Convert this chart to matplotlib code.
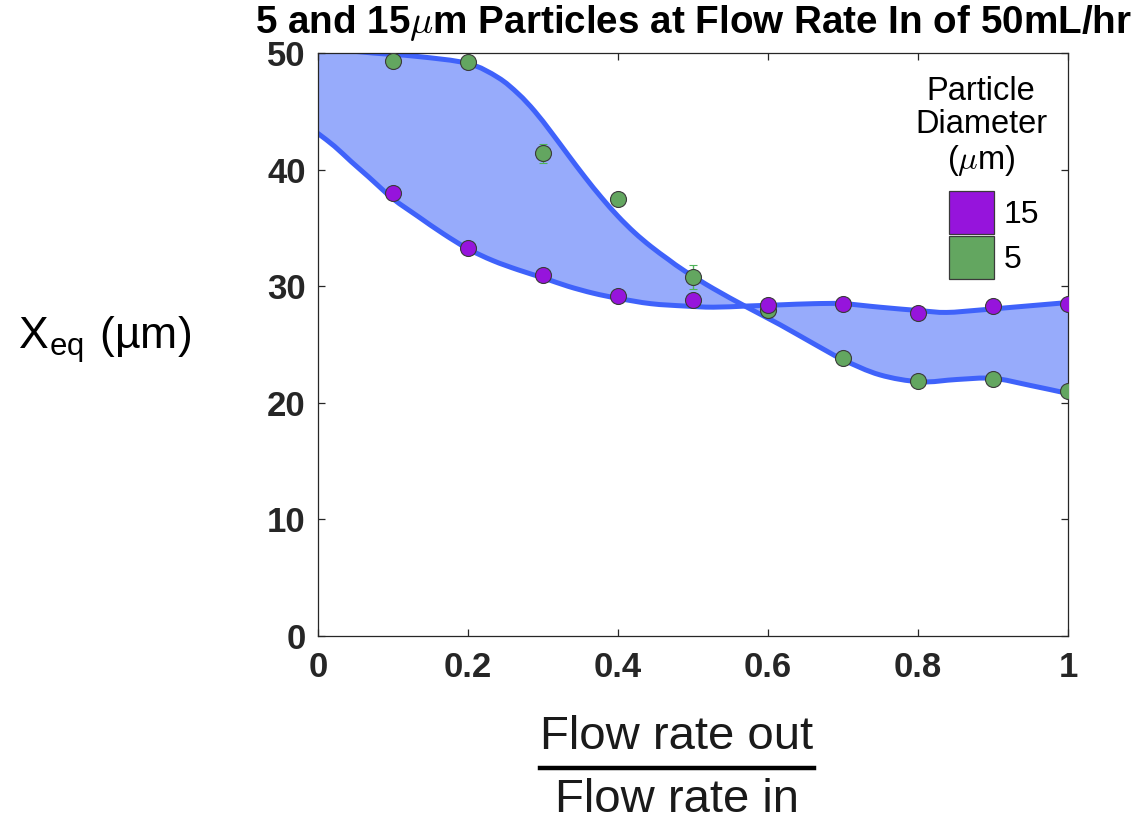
import numpy as np
import matplotlib
matplotlib.use("Agg")
import matplotlib.pyplot as plt
from matplotlib import font_manager as fm
from matplotlib.patches import Patch, PathPatch
from matplotlib.path import Path
from matplotlib.lines import Line2D

# Measured equilibrium positions (um) against outlet/inlet flow-rate ratio
ratio = [0.1, 0.2, 0.3, 0.4, 0.5, 0.6, 0.7, 0.8, 0.9, 1.0]
xeq_15um = [38.0, 33.3, 31.0, 29.2, 28.8, 28.4, 28.5, 27.7, 28.3, 28.5]
xeq_5um = [49.3, 49.2, 41.4, 37.5, 30.8, 28.0, 23.8, 21.9, 22.0, 21.0]
err_5um = [0.3, 0.3, 0.8, 0.4, 1.0, 0.3, 0.3, 0.3, 0.3, 0.3]

# Smoothed trend bounding the 5 um band
trend5_x = [0.0, 0.04, 0.073, 0.133, 0.2, 0.24, 0.267, 0.289, 0.311, 0.333,
            0.356, 0.378, 0.4, 0.422, 0.444, 0.467, 0.489, 0.527, 0.572,
            0.616, 0.66, 0.70, 0.749, 0.803, 0.852, 0.90, 0.949, 1.0]
trend5_y = [50.4, 50.2, 50.0, 49.7, 49.1, 47.9, 46.5, 45.0, 43.2, 41.3,
            39.35, 37.6, 36.0, 34.6, 33.4, 32.3, 31.3, 29.8, 28.2,
            26.7, 25.1, 23.7, 22.4, 21.8, 22.0, 22.1, 21.5, 20.8]
# Smoothed trend bounding the 15 um band
trend15_x = [0.0, 0.022, 0.044, 0.067, 0.1, 0.133, 0.167, 0.2, 0.233, 0.267,
             0.301, 0.333, 0.367, 0.4, 0.444, 0.489, 0.527, 0.572, 0.616,
             0.66, 0.70, 0.749, 0.803, 0.838, 0.883, 0.927, 1.0]
trend15_y = [43.1, 42.0, 40.7, 39.4, 37.5, 36.0, 34.5, 33.2, 32.2, 31.4,
             30.7, 30.0, 29.4, 28.96, 28.5, 28.3, 28.2, 28.3, 28.4,
             28.5, 28.5, 28.2, 27.9, 27.75, 27.96, 28.2, 28.6]

legend_labels = ["15", "5"]
xticks = [0, 0.2, 0.4, 0.6, 0.8, 1]
yticks = [0, 10, 20, 30, 40, 50]

available = {f.name for f in fm.fontManager.ttflist}
regular = "Liberation Sans" if "Liberation Sans" in available else "DejaVu Sans"
narrow = next((n for n in ("Liberation Sans Narrow", "Arial Narrow") if n in available), None)
tick_font = narrow or regular
tick_size = 27 if narrow else 25
plt.rcParams["mathtext.fontset"] = "cm"

PURPLE = "#9614DC"
GREEN = "#63A660"
BAND_LINE = "#3F62FA"
BAND_FILL = "#97ABFB"
AXIS_GRAY = "#262626"


def smooth_path_vertices(xs, ys):
    """Cubic Bezier vertices/codes passing through every (x, y) point."""
    p = np.column_stack([xs, ys]).astype(float)
    ext = np.vstack([2 * p[0] - p[1], p, 2 * p[-1] - p[-2]])
    verts = [p[0]]
    codes = [Path.MOVETO]
    for i in range(1, len(p)):
        p0, p1, p2, p3 = ext[i - 1], ext[i], ext[i + 1], ext[i + 2]
        verts += [p1 + (p2 - p0) / 6, p2 - (p3 - p1) / 6, p2]
        codes += [Path.CURVE4] * 3
    return np.array(verts), codes


fig = plt.figure(figsize=(11.4, 8.21), dpi=100)
ax = fig.add_axes([318 / 1140, 185 / 821, 750 / 1140, 583 / 821])

v5, c5 = smooth_path_vertices(trend5_x, trend5_y)
v15, c15 = smooth_path_vertices(trend15_x[::-1], trend15_y[::-1])

# shaded band between the two trends
band_codes = c5 + [Path.LINETO] + c15[1:] + [Path.CLOSEPOLY]
band_verts = np.vstack([v5, v15, v5[:1]])
ax.add_patch(PathPatch(Path(band_verts, band_codes), facecolor=BAND_FILL,
                       edgecolor="none", zorder=1))
for verts, codes in ((v5, c5), (v15, c15)):
    ax.add_patch(PathPatch(Path(verts, codes), facecolor="none",
                           edgecolor=BAND_LINE, lw=3.6, zorder=2,
                           capstyle="round", joinstyle="round"))

ax.errorbar(ratio, xeq_5um, yerr=err_5um, fmt="o", ms=11.5, mfc=GREEN,
            mec="#3a3a3a", mew=0.8, ecolor="#4FB35A", elinewidth=1.0,
            capsize=3.2, capthick=1.0, zorder=3)
ax.plot(ratio, xeq_15um, "o", ms=11.5, mfc=PURPLE, mec="#3a3a3a", mew=0.8,
        zorder=4)

ax.set_xlim(0, 1)
ax.set_ylim(0, 50)
ax.set_xticks(xticks)
ax.set_xticklabels(["0", "0.2", "0.4", "0.6", "0.8", "1"])
ax.set_yticks(yticks)
ax.set_yticklabels([str(v) for v in yticks])
ax.tick_params(direction="in", length=5, width=0.9, top=True, right=True,
               color=AXIS_GRAY, labelcolor=AXIS_GRAY)
ax.tick_params(axis="x", pad=11)
ax.tick_params(axis="y", pad=9)
for lab in ax.get_xticklabels() + ax.get_yticklabels():
    lab.set_fontfamily(tick_font)
    lab.set_fontweight("bold")
    lab.set_fontsize(tick_size)
for sp in ax.spines.values():
    sp.set_color(AXIS_GRAY)
    sp.set_linewidth(0.9)

title = ax.text(0.5, (636 - 33) / 583,
                "5 and 15$\\mu$m Particles at Flow Rate In of 50mL/hr",
                transform=ax.transAxes, ha="center", va="baseline", fontsize=24,
                fontfamily=tick_font, fontweight="bold", color="black")

# legend: heading text above the colour swatches
ax.text((981 - 318) / 750, (636 - 127) / 583, "Particle\nDiameter\n($\\mu$m)",
        transform=ax.transAxes, ha="center", va="center", multialignment="center",
        linespacing=1.1, fontsize=23.5, fontfamily=regular, color="black")
handles = [Patch(facecolor=PURPLE, edgecolor="#3a3a3a", lw=0.9),
           Patch(facecolor=GREEN, edgecolor="#3a3a3a", lw=0.9)]
leg = ax.legend(handles, legend_labels, loc="upper center",
                bbox_to_anchor=((994 - 318) / 750, (636 - 191) / 583),
                frameon=False, prop={"family": regular, "size": 23},
                handlelength=1.4, handleheight=1.7, handletextpad=0.3,
                labelspacing=0.05, borderpad=0, borderaxespad=0)

# horizontal axis label written as a ratio
fig.text(677 / 1140, 1 - 737 / 821, "Flow rate out", ha="center", va="center",
         fontsize=34, fontfamily=regular, color="#1a1a1a")
fig.text(677 / 1140, 1 - 800 / 821, "Flow rate in", ha="center", va="center",
         fontsize=34, fontfamily=regular, color="#1a1a1a")
fig.add_artist(Line2D([540 / 1140, 814 / 1140], [1 - 768 / 821, 1 - 768 / 821],
                      transform=fig.transFigure, color="black", lw=3.2))

fig.text(18 / 1140, 1 - 340 / 821, "X$_\\mathregular{eq}$ (µm)", ha="left",
         va="center", fontsize=32, fontfamily=regular, color="black")

# size the title to span the same width as the plot heading row
fig.canvas.draw()
w = title.get_window_extent().width
title.set_fontsize(24 * 877 / w)

fig.savefig("out.png", dpi=100)
